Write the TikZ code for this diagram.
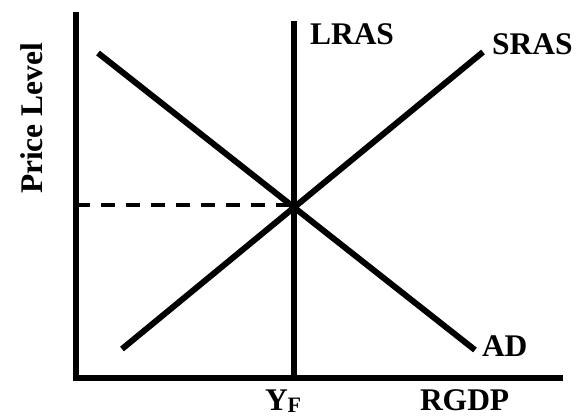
\documentclass[tikz,border=0pt]{standalone}
\usepackage{fontspec}
\setmainfont{Liberation Serif}
\usetikzlibrary{positioning}
\tikzset{every picture/.style={
    every path/.style={line width=6pt},
}}
\tikzset{
    axis/.style={line width=6.5pt, line join=miter},
    curvelabel/.style={anchor=base west, inner sep=0pt, font=\bfseries\fontsize{31.5}{36}\selectfont},
}

\begin{document}
\begin{tikzpicture}[x=1pt, y=1pt]
    \useasboundingbox (0,0) rectangle (579,417);
    % axes
    \coordinate (ytop) at (76,405);
    \coordinate (origin) at (76,39);
    \coordinate (xend) at (563,39);
    \draw[axis] (ytop) -- (origin) -- (xend);
    % long run and short run supply, demand
    \coordinate (lrastop) at (294,396);
    \coordinate (lrasbot) at (294,39);
    \coordinate (adstart) at (98,364);
    \coordinate (adend) at (475,67);
    \coordinate (srasstart) at (122,68);
    \coordinate (srasend) at (483,365);
    \draw (lrasbot) -- (lrastop);
    \draw (adstart) -- (adend);
    \draw (srasstart) -- (srasend);
    % price level at equilibrium
    \coordinate (pleft) at (76,212);
    \coordinate (eq) at (294,212);
    \draw[line width=4pt, dash pattern=on 14pt off 11pt] (pleft) -- (eq);
    % labels
    \node[curvelabel] (lras) at (307,372) {LRAS};
    \node[curvelabel] (sras) at (489,362) {SRAS};
    \node[curvelabel] (ad) at (479,60) {AD};
    \node[curvelabel] (rgdp) at (417,6) {RGDP};
    \node[curvelabel] (yf) at (262,6) {Y\raisebox{-2pt}{\fontsize{22}{22}\selectfont F}};
    \node[curvelabel, rotate=90] (plevel) at (42,220) {Price Level};
\end{tikzpicture}
\end{document}
